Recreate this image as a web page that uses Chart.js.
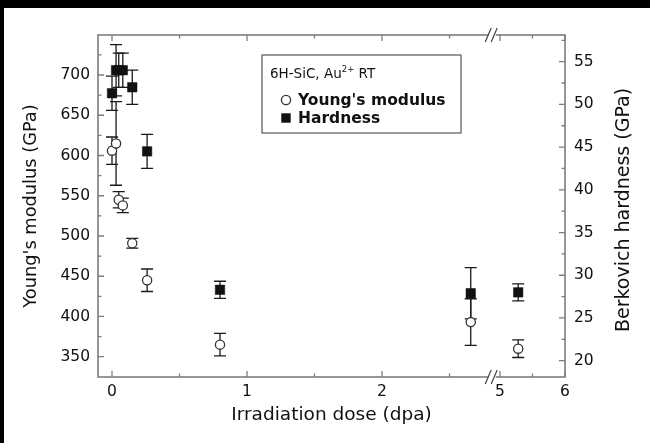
<!DOCTYPE html>
<html><head><meta charset="utf-8">
<script src="https://cdn.jsdelivr.net/npm/chart.js@4.4.1/dist/chart.umd.min.js"></script>
<style>
html,body{margin:0;padding:0;background:#000;width:650px;height:443px;overflow:hidden}
#wrap{position:absolute;left:4px;top:8px;width:646px;height:435px;background:#fff}
canvas{display:block}
</style></head><body>
<div id="wrap"><canvas id="c" width="646" height="435"></canvas></div>
<script>
// ---- data ----
const doses          = [0, 0.03, 0.05, 0.08, 0.15, 0.26, 0.8, 4.55, 5.28];   // dpa
const youngsModulus  = [606, 615, 545, 538, 491, 445, 365, 393, 360];       // GPa
const youngsError    = [17, 52, 10, 9, 6, 14, 14, 29, 11];
const hardness       = [51.3, 54.0, 54.0, 54.0, 52.0, 44.5, 28.3, 27.9, 28.0]; // GPa
const hardnessError  = [2.0, 3.0, 2.0, 2.0, 2.0, 2.0, 1.0, 3.0, 1.0];

const xTicks  = [0, 0.5, 1, 1.5, 2, 2.5, 5, 5.5, 6];
const xLabelled = [0, 1, 2, 5, 6];
const yTicks  = [350, 375, 400, 425, 450, 475, 500, 525, 550, 575, 600, 625, 650, 675, 700, 725];
const y2Ticks = [20, 22.5, 25, 27.5, 30, 32.5, 35, 37.5, 40, 42.5, 45, 47.5, 50, 52.5, 55, 57.5];

const legendTitle = '6H-SiC, Au';
const legendSup = '2+';
const legendTitleEnd = ' RT';
const seriesNames = ["Young's modulus", 'Hardness'];
const xTitle = 'Irradiation dose (dpa)';
const yTitle = "Young's modulus (GPa)";
const y2Title = 'Berkovich hardness (GPa)';

// broken x axis: linear up to the break, compressed segment for 5–6 dpa
const BREAK_VALUE = 4.88;      // where the // mark sits
const SEG_SPLIT = 3;           // values above this belong to the second segment
const SEG2_ANCHOR = 5, SEG2_U = 2.874, SEG2_RATIO = 0.4815;

const FONT = "'DejaVu Sans', sans-serif";
const AXIS_COLOR = '#7d7d7d';
const INK = '#111';

class BrokenLinearScale extends Chart.LinearScale {
  toU(v) { return v <= SEG_SPLIT ? v : SEG2_U + (v - SEG2_ANCHOR) * SEG2_RATIO; }
  fromU(u) { return u <= SEG_SPLIT - 0.2 ? u : SEG2_ANCHOR + (u - SEG2_U) / SEG2_RATIO; }
  buildTicks() { return xTicks.map(v => ({ value: v })); }
  getPixelForValue(value) {
    const u0 = this.toU(this.min), u1 = this.toU(this.max);
    return this.getPixelForDecimal((this.toU(value) - u0) / (u1 - u0));
  }
  getValueForPixel(pixel) {
    const u0 = this.toU(this.min), u1 = this.toU(this.max);
    return this.fromU(u0 + this.getDecimalForPixel(pixel) * (u1 - u0));
  }
}
BrokenLinearScale.id = 'brokenLinear';
BrokenLinearScale.defaults = Chart.LinearScale.defaults;
Chart.register(BrokenLinearScale);

const errorBars = {
  id: 'errorBars',
  beforeDatasetsDraw(chart) {
    const ctx = chart.ctx, xs = chart.scales.x;
    const sets = [
      { scale: chart.scales.y, vals: youngsModulus, errs: youngsError },
      { scale: chart.scales.y2, vals: hardness, errs: hardnessError }
    ];
    ctx.save();
    ctx.strokeStyle = '#1a1a1a';
    ctx.lineWidth = 1.3;
    sets.forEach(s => {
      s.vals.forEach((v, i) => {
        const x = xs.getPixelForValue(doses[i]);
        const yt = s.scale.getPixelForValue(v + s.errs[i]);
        const yb = s.scale.getPixelForValue(v - s.errs[i]);
        ctx.beginPath();
        ctx.moveTo(x, yt); ctx.lineTo(x, yb);
        ctx.moveTo(x - 6, yt); ctx.lineTo(x + 6, yt);
        ctx.moveTo(x - 6, yb); ctx.lineTo(x + 6, yb);
        ctx.stroke();
      });
    });
    ctx.restore();
  }
};

const frame = {
  id: 'frame',
  afterDatasetsDraw(chart) {
    const { ctx, chartArea: a, scales } = chart;
    ctx.save();
    ctx.strokeStyle = AXIS_COLOR;
    ctx.lineWidth = 1.6;
    ctx.strokeRect(a.left, a.top, a.right - a.left, a.bottom - a.top);
    ctx.lineWidth = 1.3;
    ctx.beginPath();
    xTicks.forEach(v => {
      const x = scales.x.getPixelForValue(v);
      const len = xLabelled.includes(v) ? 6 : 3.5;
      ctx.moveTo(x, a.bottom); ctx.lineTo(x, a.bottom - len);
      ctx.moveTo(x, a.top); ctx.lineTo(x, a.top + len);
    });
    yTicks.forEach(v => {
      const y = scales.y.getPixelForValue(v);
      const len = v % 50 === 0 ? 6 : 3.5;
      ctx.moveTo(a.left, y); ctx.lineTo(a.left + len, y);
    });
    y2Ticks.forEach(v => {
      const y = scales.y2.getPixelForValue(v);
      const len = v % 5 === 0 ? 6 : 3.5;
      ctx.moveTo(a.right, y); ctx.lineTo(a.right - len, y);
    });
    ctx.stroke();
    // axis break marks
    const xb = scales.x.getPixelForValue(BREAK_VALUE);
    [a.top, a.bottom].forEach(y => {
      ctx.fillStyle = '#fff';
      ctx.fillRect(xb - 3.5, y - 2, 7, 4);
      ctx.strokeStyle = '#444';
      ctx.lineWidth = 1.2;
      ctx.beginPath();
      ctx.moveTo(xb - 7, y + 7); ctx.lineTo(xb - 1, y - 7);
      ctx.moveTo(xb - 1, y + 7); ctx.lineTo(xb + 5, y - 7);
      ctx.stroke();
    });
    ctx.restore();
  },
  afterDraw(chart) {
    const { ctx, chartArea: a } = chart;
    ctx.save();
    // right axis title, reading bottom-to-top
    ctx.fillStyle = INK;
    ctx.font = `19px ${FONT}`;
    ctx.textAlign = 'center';
    ctx.textBaseline = 'middle';
    ctx.translate(620, (a.top + a.bottom) / 2 + 4);
    ctx.rotate(-Math.PI / 2);
    ctx.fillText(y2Title, 0, 0);
    ctx.restore();

    // legend box
    ctx.save();
    const bx = a.left + 164, by = a.top + 20, bw = 199, bh = 78;
    ctx.strokeStyle = '#555';
    ctx.lineWidth = 1.2;
    ctx.strokeRect(bx, by, bw, bh);
    ctx.fillStyle = INK;
    ctx.textBaseline = 'alphabetic';
    ctx.font = `13.5px ${FONT}`;
    let tx = bx + 8;
    const ty = by + 23;
    ctx.fillText(legendTitle, tx, ty);
    tx += ctx.measureText(legendTitle).width;
    ctx.font = `8.5px ${FONT}`;
    ctx.fillText(legendSup, tx, ty - 6);
    tx += ctx.measureText(legendSup).width;
    ctx.font = `13.5px ${FONT}`;
    ctx.fillText(legendTitleEnd, tx, ty);
    // items
    ctx.font = `bold 15.5px ${FONT}`;
    ctx.textBaseline = 'middle';
    const ix = bx + 24;
    const y1 = by + 45, y2 = by + 63;
    ctx.beginPath();
    ctx.arc(ix, y1, 4.6, 0, Math.PI * 2);
    ctx.fillStyle = '#fff'; ctx.fill();
    ctx.strokeStyle = '#333'; ctx.lineWidth = 1.3; ctx.stroke();
    ctx.fillStyle = '#111';
    ctx.fillRect(ix - 4.7, y2 - 4.7, 9.4, 9.4);
    ctx.fillStyle = INK;
    ctx.fillText(seriesNames[0], bx + 36, y1 + 1);
    ctx.fillText(seriesNames[1], bx + 36, y2 + 1);
    ctx.restore();
  }
};

new Chart(document.getElementById('c'), {
  type: 'scatter',
  data: {
    datasets: [
      {
        label: seriesNames[0],
        data: doses.map((d, i) => ({ x: d, y: youngsModulus[i] })),
        yAxisID: 'y',
        pointStyle: 'circle',
        pointRadius: 4.6,
        pointBorderWidth: 1.3,
        borderColor: '#333',
        backgroundColor: '#fff',
        order: 2
      },
      {
        label: seriesNames[1],
        data: doses.map((d, i) => ({ x: d, y: hardness[i] })),
        yAxisID: 'y2',
        pointStyle: 'rect',
        pointRadius: 6.7,
        pointBorderWidth: 0.5,
        borderColor: '#111',
        backgroundColor: '#111',
        order: 1
      }
    ]
  },
  options: {
    responsive: false,
    devicePixelRatio: 1,
    animation: false,
    events: [],
    layout: { padding: { top: 27, left: 0, right: 0, bottom: 0 } },
    plugins: { legend: { display: false }, tooltip: { enabled: false } },
    scales: {
      x: {
        type: 'brokenLinear',
        min: -0.1037, max: 6,
        grid: { display: false, drawTicks: false },
        border: { display: false },
        ticks: {
          autoSkip: false, maxRotation: 0, padding: 6,
          color: INK, font: { family: FONT, size: 15.5 },
          callback: v => (xLabelled.includes(v) ? String(v) : '')
        },
        title: { display: true, text: xTitle, color: INK, font: { family: FONT, size: 18.5 }, padding: { top: 0, bottom: 17 } },
        afterFit: s => { s.height = 66; }
      },
      y: {
        position: 'left',
        min: 324.8, max: 749.7,
        grid: { display: false, drawTicks: false },
        border: { display: false },
        afterBuildTicks: s => { s.ticks = yTicks.map(v => ({ value: v })); },
        ticks: {
          autoSkip: false, padding: 8,
          color: INK, font: { family: FONT, size: 15.5 },
          callback: v => (v % 50 === 0 ? String(v) : '')
        },
        title: { display: true, text: yTitle, color: INK, font: { family: FONT, size: 17.8 }, padding: { top: 16.5, bottom: 0 } },
        afterFit: s => { s.width = 94; }
      },
      y2: {
        position: 'right',
        min: 18.09, max: 58.12,
        grid: { display: false, drawTicks: false },
        border: { display: false },
        afterBuildTicks: s => { s.ticks = y2Ticks.map(v => ({ value: v })); },
        ticks: {
          autoSkip: false, padding: 9,
          color: INK, font: { family: FONT, size: 15.5 },
          callback: v => (v % 5 === 0 ? String(v) : '')
        },
        afterFit: s => { s.width = 85; }
      }
    }
  },
  plugins: [errorBars, frame]
});
</script>
</body></html>
